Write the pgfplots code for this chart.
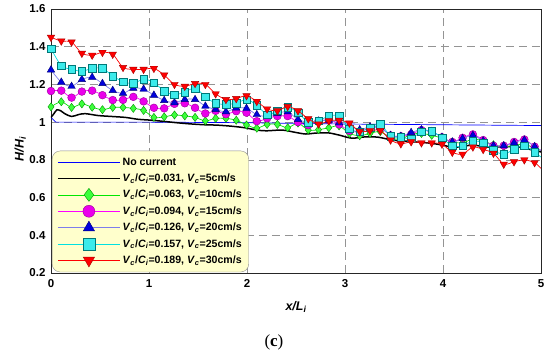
\documentclass[border=0pt]{standalone}
\usepackage{fontspec}
\setmainfont{Liberation Sans}
\newfontfamily\seriffont{Liberation Serif}
\usepackage{pgfplots}
\usepackage{pgfplotstable}
\pgfplotsset{compat=1.18}

\definecolor{legfill}{RGB}{255,255,204}
\definecolor{grn}{RGB}{0,230,0}
\definecolor{grnfill}{RGB}{60,255,60}
\definecolor{grnedge}{RGB}{0,150,0}
\definecolor{mag}{RGB}{255,0,255}
\definecolor{magfill}{RGB}{235,0,235}
\definecolor{magedge}{RGB}{150,0,150}
\definecolor{bline}{RGB}{125,125,235}
\definecolor{bfill}{RGB}{0,0,220}
\definecolor{bedge}{RGB}{0,0,120}
\definecolor{cyl}{RGB}{0,225,225}
\definecolor{cyfill}{RGB}{60,235,235}
\definecolor{cyedge}{RGB}{0,120,120}
\definecolor{rd}{RGB}{255,0,0}
\definecolor{rdedge}{RGB}{170,0,0}

\newcommand\vc{\textit{V}\textsubscript{\textit{c}}}
\newcommand\ci{\textit{C}\textsubscript{\textit{i}}}

\pgfplotstableread{
x      r      c      b      m      g
0      1.450  1.390  1.277  1.165  1.081
0.105  1.430  1.300  1.212  1.167  1.108
0.210  1.425  1.280  1.190  1.130  1.078
0.315  1.365  1.270  1.226  1.162  1.097
0.420  1.355  1.285  1.238  1.167  1.079
0.525  1.370  1.285  1.205  1.143  1.066
0.630  1.360  1.245  1.168  1.117  1.078
0.735  1.290  1.215  1.153  1.118  1.078
0.840  1.280  1.205  1.180  1.134  1.073
0.945  1.280  1.228  1.175  1.110  1.062
1.050  1.285  1.210  1.143  1.076  1.025
1.155  1.250  1.165  1.115  1.073  1.028
1.260  1.200  1.145  1.103  1.097  1.038
1.365  1.190  1.160  1.120  1.100  1.033
1.470  1.205  1.180  1.120  1.076  1.025
1.575  1.200  1.135  1.085  1.046  1.007
1.680  1.150  1.100  1.067  1.060  1.020
1.785  1.120  1.095  1.055  1.042  1.020
1.890  1.125  1.100  1.075  1.058  1.010
1.995  1.140  1.120  1.073  1.050  0.985
2.100  1.110  1.090  1.040  1.005  0.968
2.205  1.070  1.040  1.030  1.020  0.988
2.310  1.060  1.060  1.046  1.032  0.988
2.415  1.083  1.080  1.055  1.032  0.970
2.520  1.060  1.050  1.014  1.000  0.995
2.625  1.018  1.000  1.000  0.984  0.958
2.730  0.990  1.008  1.005  1.007  0.960
2.835  1.007  1.032  1.010  1.010  0.970
2.940  1.010  1.032  0.996  0.988  0.980
3.045  0.995  0.966  0.980  0.954  0.940
3.150  0.950  0.950  0.960  0.950  0.928
3.255  0.955  0.970  0.975  0.970  0.940
3.360  0.955  0.990  0.972  0.970  0.950
3.465  0.905  0.926  0.930  0.930  0.917
3.570  0.885  0.920  0.925  0.925  0.910
3.675  0.896  0.913  0.945  0.935  0.935
3.780  0.890  0.950  0.960  0.958  0.940
3.885  0.890  0.952  0.950  0.950  0.930
3.990  0.883  0.917  0.920  0.920  0.915
4.095  0.840  0.874  0.895  0.895  0.895
4.200  0.830  0.874  0.913  0.917  0.890
4.305  0.868  0.900  0.930  0.935  0.910
4.410  0.855  0.890  0.900  0.905  0.900
4.515  0.835  0.850  0.875  0.875  0.880
4.620  0.777  0.830  0.875  0.875  0.870
4.725  0.790  0.856  0.890  0.895  0.875
4.830  0.800  0.875  0.905  0.908  0.885
4.935  0.785  0.840  0.870  0.870  0.860
5.000  0.755  0.815  0.850  0.850  0.850
}\data

\pgfplotstableread{
x     y
0     1.025
0.03  1.045
0.06  1.065
0.10  1.060
0.14  1.045
0.21  1.030
0.28  1.040
0.35  1.045
0.48  1.035
0.62  1.030
0.76  1.025
0.89  1.015
1.03  1.010
1.17  1.003
1.30  0.996
1.44  0.990
1.57  0.986
1.70  0.984
1.85  0.978
1.98  0.970
2.10  0.958
2.20  0.954
2.36  0.958
2.50  0.945
2.60  0.937
2.70  0.942
2.83  0.943
2.95  0.930
3.07  0.915
3.21  0.922
3.34  0.920
3.48  0.905
3.60  0.900
3.69  0.896
3.80  0.892
3.89  0.887
4.00  0.878
4.10  0.866
4.20  0.872
4.30  0.878
4.40  0.872
4.50  0.866
4.60  0.870
4.74  0.870
4.85  0.860
4.92  0.851
5.00  0.842
}\black

\pgfplotstableread{
x     y
0     1.025
0.05  1.000
1.00  1.000
2.00  0.997
3.00  0.990
4.00  0.986
5.00  0.982
}\nocur

\begin{document}
\begin{tikzpicture}
\path[use as bounding box] (-51pt,-82pt) rectangle (499pt,273pt);
\begin{axis}[
  at={(0,0)}, anchor=south west,
  scale only axis, width=490pt, height=264pt,
  xmin=0, xmax=5, ymin=0.2, ymax=1.6,
  clip mode=individual,
  xtick={0,1,2,3,4,5},
  ytick={0.2,0.4,0.6,0.8,1,1.2,1.4,1.6},
  grid=major,
  major grid style={draw=black!42, dash pattern=on 8pt off 5pt, line width=0.7pt},
  axis line style={draw=black!85, line width=0.8pt},
  major tick length=0pt,
  /pgf/number format/assume math mode=true,
  ticklabel style={font=\bfseries\fontsize{11.5}{13}\selectfont},
  yticklabel style={xshift=-2pt},
  xticklabel style={yshift=-3pt},
  xlabel={\bfseries\itshape x/L\textsubscript{i}},
  ylabel={\bfseries\itshape H/H\textsubscript{i}},
  label style={font=\fontsize{12.5}{14}\selectfont},
  xlabel style={at={(axis description cs:0.5,-0.13)}, anchor=center},
  ylabel style={at={(axis description cs:-0.063,0.47)}, anchor=center},
  legend style={at={(0.002,0.003)}, anchor=south west, fill=legfill, draw=black!45,
    rounded corners=8pt, font=\bfseries\fontsize{10.6}{12.5}\selectfont,
    inner xsep=5pt, inner ysep=5pt, row sep=3.2pt, cells={anchor=west}},
  legend image code/.code={\draw[mark repeat=2,mark phase=2,#1] plot coordinates {(0pt,0pt) (31pt,0pt) (62pt,0pt)};},
]
% lines
\addplot[blue, line width=0.7pt, forget plot] table[x=x,y=y]{\nocur};
\addplot[black, line width=1.5pt, smooth, forget plot] table[x=x,y=y]{\black};
\addplot[grn, line width=0.7pt, smooth, forget plot] table[x=x,y=g]{\data};
\addplot[only marks, mark=diamond*, mark size=4.1pt, mark options={fill=grnfill, draw=grnedge, line width=0.4pt}, skip coords between index={48}{49}, forget plot] table[x=x,y=g]{\data};
\addplot[mag, line width=0.7pt, smooth, forget plot] table[x=x,y=m]{\data};
\addplot[only marks, mark=*, mark size=3.9pt, mark options={fill=magfill, draw=magedge, line width=0.4pt}, skip coords between index={48}{49}, forget plot] table[x=x,y=m]{\data};
\addplot[bline, line width=0.7pt, smooth, forget plot] table[x=x,y=b]{\data};
\addplot[only marks, mark=triangle*, mark size=4.3pt, mark options={fill=bfill, draw=bedge, line width=0.4pt}, skip coords between index={48}{49}, forget plot] table[x=x,y=b]{\data};
\addplot[cyl, line width=0.7pt, smooth, forget plot] table[x=x,y=c]{\data};
\addplot[only marks, mark=square*, mark size=3.8pt, mark options={fill=cyfill, draw=cyedge, line width=0.4pt}, skip coords between index={48}{49}, forget plot] table[x=x,y=c]{\data};
\addplot[rd, line width=0.7pt, smooth, forget plot] table[x=x,y=r]{\data};
\addplot[only marks, mark=triangle*, mark size=4.3pt, mark options={rotate=180, fill=rd, draw=rdedge, line width=0.4pt}, skip coords between index={48}{49}, forget plot] table[x=x,y=r]{\data};

% legend
\addlegendimage{draw=blue, line width=0.7pt}
\addlegendentry{No current}
\addlegendimage{draw=black, line width=1.5pt}
\addlegendentry{\vc/\ci=0.031, \vc=5cm/s}
\addlegendimage{draw=grn, line width=0.7pt, mark=diamond*, mark size=6.5pt, mark options={fill=grnfill, draw=grnedge, line width=0.4pt}}
\addlegendentry{\vc/\ci=0.063, \vc=10cm/s}
\addlegendimage{draw=mag, line width=0.7pt, mark=*, mark size=6pt, mark options={fill=magfill, draw=magedge, line width=0.4pt}}
\addlegendentry{\vc/\ci=0.094, \vc=15cm/s}
\addlegendimage{draw=bline, line width=0.7pt, mark=triangle*, mark size=6.5pt, mark options={fill=bfill, draw=bedge, line width=0.4pt}}
\addlegendentry{\vc/\ci=0.126, \vc=20cm/s}
\addlegendimage{draw=cyl, line width=0.7pt, mark=square*, mark size=5.8pt, mark options={fill=cyfill, draw=cyedge, line width=0.4pt}}
\addlegendentry{\vc/\ci=0.157, \vc=25cm/s}
\addlegendimage{draw=rd, line width=0.7pt, mark=triangle*, mark size=6.5pt, mark options={rotate=180, fill=rd, draw=rdedge, line width=0.4pt}}
\addlegendentry{\vc/\ci=0.189, \vc=30cm/s}

\node[inner sep=0pt, font=\seriffont\fontsize{17}{20}\selectfont] at (axis description cs:0.455,-0.262) {(\textbf{c})};
\end{axis}
\end{tikzpicture}
\end{document}
